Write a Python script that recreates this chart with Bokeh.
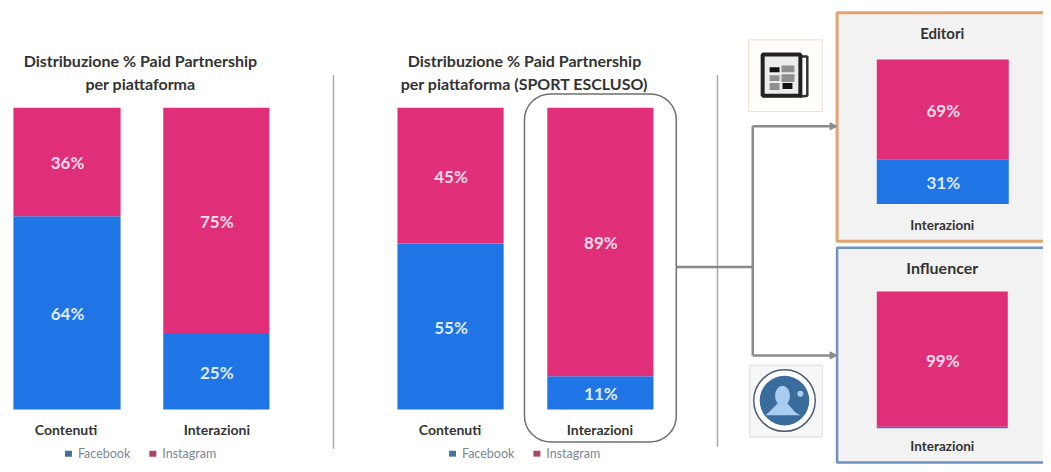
from bokeh.plotting import figure
from bokeh.embed import file_html
from bokeh.resources import INLINE
from bokeh.core.properties import value
from bokeh.models import Range1d, BoxAnnotation, Arrow, NormalHead

# ---- data
categories = ["Contenuti", "Interazioni"]
facebook_all = [64, 25]
instagram_all = [36, 75]
facebook_nosport = [55, 11]
instagram_nosport = [45, 89]
facebook_editori = [31]
instagram_editori = [69]
facebook_influencer = [1]
instagram_influencer = [99]
influencer_label = ["99%"]
legend_names = ["Facebook", "Instagram"]
title_1 = ["Distribuzione % Paid Partnership", "per piattaforma"]
title_2 = ["Distribuzione % Paid Partnership", "per piattaforma (SPORT ESCLUSO)"]

# ---- style / layout
PINK = "#e02f78"
BLUE = "#1f74e6"
FONT = value("Lato")
W, H = 1043, 464

p = figure(width=W, height=H, output_backend="svg", toolbar_location=None,
           x_range=Range1d(0, 1051), y_range=Range1d(472, 0),
           min_border=0, outline_line_color=None)
p.xaxis.visible = False
p.yaxis.visible = False
p.grid.visible = False
p.background_fill_color = "white"
p.border_fill_color = "white"


def txt(x, y, s, size, color="#333333", bold=True, align="center"):
    p.text([x], [y], text=[s], text_font=FONT, text_font_size=f"{size}px",
           text_font_style="bold" if bold else "normal", text_color=color,
           text_align=align, text_baseline="middle")


def stacked(x0, x1, y_top, y_bot, fb, ig, label_fb=True, ig_label=None):
    h = y_bot - y_top
    split = y_bot - h * fb / (fb + ig)
    p.quad(left=[x0], right=[x1], top=[split], bottom=[y_bot], fill_color=BLUE, line_color=None)
    p.quad(left=[x0], right=[x1], top=[y_top], bottom=[split], fill_color=PINK, line_color=None)
    xm = (x0 + x1) / 2
    txt(xm + 0.5, (y_top + split) / 2 + 1, ig_label or f"{ig}%", 17, "#fbdbe8")
    if label_fb:
        txt(xm + 0.5, (split + y_bot) / 2 + 1, f"{fb}%", 17, "#dfeaff")


def legend(x_sq1, x_t1, x_sq2, x_t2, y):
    p.quad(left=[x_sq1], right=[x_sq1 + 7], top=[y - 3], bottom=[y + 3], fill_color="#47709f", line_color=None)
    txt(x_t1, y, legend_names[0], 12.5, "#7d8794", False, "left")
    p.quad(left=[x_sq2], right=[x_sq2 + 7], top=[y - 3], bottom=[y + 3], fill_color="#a9446a", line_color=None)
    txt(x_t2, y, legend_names[1], 12.5, "#7d8794", False, "left")


# panels behind the small charts
p.quad(left=[843], right=[1060], top=[12.5], bottom=[245], fill_color="#f2f2f2",
       line_color="#e2a36e", line_width=3)
p.quad(left=[843], right=[1060], top=[251.5], bottom=[470], fill_color="#f2f2f2",
       line_color="#6f92c4", line_width=2.5)

# left chart
stacked(13, 121, 109, 416, facebook_all[0], instagram_all[0])
stacked(164, 271, 109, 416, facebook_all[1], instagram_all[1])
txt(141, 61, title_1[0], 16)
txt(141, 84, title_1[1], 16)
txt(66, 436, categories[0], 14)
txt(218, 436, categories[1], 14)
legend(65, 78, 150, 163, 461)

# middle chart
stacked(400, 507, 109, 416, facebook_nosport[0], instagram_nosport[0])
stacked(551, 658, 109, 416, facebook_nosport[1], instagram_nosport[1])
txt(528, 61, title_2[0], 16)
txt(528, 84, title_2[1], 16)
txt(453, 436, categories[0], 14)
txt(604, 436, categories[1], 14)
legend(452, 465, 537, 550, 461)

# highlight round the second column
p.add_layout(BoxAnnotation(left=528, right=681, top=95, bottom=449, border_radius=26,
                           fill_alpha=0, line_color="#6f6f6f", line_alpha=1, line_width=1.5))

# separators
p.segment([335.5, 722.5], [76, 76], [335.5, 722.5], [456, 454], line_color="#a9a9b0", line_width=1.5)

# connectors
CONN = "#8a8a8a"
p.line([681, 758], [271, 271], line_color=CONN, line_width=2.5)
p.line([758, 758], [128, 361], line_color=CONN, line_width=2.5)
for yy in (128, 361):
    p.add_layout(Arrow(end=NormalHead(size=7, fill_color=CONN, line_color=CONN),
                       x_start=758, y_start=yy, x_end=843, y_end=yy,
                       line_color=CONN, line_width=2.5))

# newspaper icon
p.quad(left=[754], right=[828], top=[40], bottom=[113], fill_color="#fffdfa", line_color="#e8e0d6", line_width=1)
p.line([805, 813, 813, 805], [57, 57, 97, 98], line_color="#333333", line_width=2.5)
p.quad(left=[768], right=[806], top=[55], bottom=[97], fill_color="#ececec", line_color="#222222", line_width=4)
p.quad(left=[775, 787, 775, 775, 787], right=[785, 800, 785, 785, 800], top=[68, 66, 76, 84, 75], bottom=[73, 73, 82, 91, 83],
       fill_color=["#111111", "#8f8f8f", "#8f8f8f", "#8f8f8f", "#8f8f8f"], line_color=None)
p.quad(left=[788], right=[798], top=[84], bottom=[90], fill_color="#111111", line_color=None)

# influencer icon
p.quad(left=[755], right=[828], top=[371], bottom=[444], fill_color="#f7f7f7", line_color="#dcdcdc", line_width=1)
p.circle([790], [407], radius=31, fill_color="white", line_color="#4d5f70", line_width=1.5)
p.circle([790], [407], radius=25, fill_color="#3a6c9c", line_color=None)
p.ellipse([788], [402], width=15, height=20, fill_color="#a8cdf0", line_color=None)
p.patch([774, 783, 793, 801, 806, 771], [419, 410, 410, 419, 422, 422], fill_color="#a8cdf0", line_color=None)
p.circle([806], [400], radius=3, fill_color="#a8cdf0", line_color=None)

# Editori
stacked(883, 1016, 60, 207, facebook_editori[0], instagram_editori[0])
txt(949, 33, "Editori", 15)
txt(949, 228, categories[1], 13.5)

# Influencer
stacked(883, 1015, 296, 435, facebook_influencer[0], instagram_influencer[0], label_fb=False, ig_label=influencer_label[0])
txt(949, 272, "Influencer", 16)
txt(949, 453, categories[1], 13.5)

open("out.html", "w").write(file_html(p, INLINE))
